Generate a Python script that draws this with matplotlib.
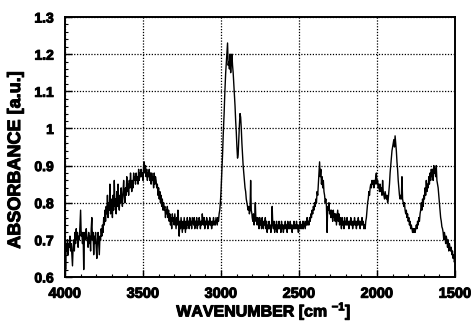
import matplotlib
matplotlib.use("Agg")
import matplotlib.pyplot as plt
import matplotlib.patheffects as pe
from matplotlib.ticker import MultipleLocator

plt.rcParams['font.family'] = ['Liberation Sans', 'DejaVu Sans']
plt.rcParams['mathtext.fontset'] = 'custom'
plt.rcParams['mathtext.rm'] = 'Liberation Sans'
plt.rcParams['mathtext.bf'] = 'Liberation Sans:bold'

wavenumber = [
    4000, 3996, 3992, 3988, 3984, 3980, 3976, 3972, 3968, 3964, 3960, 3956, 3952, 3948, 3944, 3940,
    3936, 3932, 3928, 3924, 3920, 3916, 3912, 3908, 3904, 3900, 3896, 3892, 3888, 3884, 3880, 3876,
    3872, 3868, 3864, 3860, 3856, 3852, 3848, 3844, 3840, 3836, 3832, 3828, 3824, 3820, 3816, 3812,
    3808, 3804, 3800, 3796, 3792, 3788, 3784, 3780, 3776, 3772, 3768, 3764, 3760, 3756, 3752, 3748,
    3744, 3740, 3736, 3732, 3728, 3724, 3720, 3716, 3712, 3708, 3704, 3700, 3696, 3692, 3688, 3684,
    3680, 3676, 3672, 3668, 3664, 3660, 3656, 3652, 3648, 3644, 3640, 3636, 3632, 3628, 3624, 3620,
    3616, 3612, 3608, 3604, 3600, 3596, 3592, 3588, 3584, 3580, 3576, 3572, 3568, 3564, 3560, 3556,
    3552, 3548, 3544, 3540, 3536, 3532, 3528, 3524, 3520, 3516, 3512, 3508, 3504, 3500, 3496, 3492,
    3488, 3484, 3480, 3476, 3472, 3468, 3464, 3460, 3456, 3452, 3448, 3444, 3440, 3436, 3432, 3428,
    3424, 3420, 3416, 3412, 3408, 3404, 3400, 3396, 3392, 3388, 3384, 3380, 3376, 3372, 3368, 3364,
    3360, 3356, 3352, 3348, 3344, 3340, 3336, 3332, 3328, 3324, 3320, 3316, 3312, 3308, 3304, 3300,
    3296, 3292, 3288, 3284, 3280, 3276, 3272, 3268, 3264, 3260, 3256, 3252, 3248, 3244, 3240, 3236,
    3232, 3228, 3224, 3220, 3216, 3212, 3208, 3204, 3200, 3196, 3192, 3188, 3184, 3180, 3176, 3172,
    3168, 3164, 3160, 3156, 3152, 3148, 3144, 3140, 3136, 3132, 3128, 3124, 3120, 3116, 3112, 3108,
    3104, 3100, 3096, 3092, 3088, 3084, 3080, 3076, 3072, 3068, 3064, 3060, 3056, 3052, 3048, 3044,
    3040, 3036, 3032, 3028, 3024, 3020, 3016, 3012, 3008, 3004, 3000, 2996, 2990, 2986, 2980, 2976,
    2970, 2964, 2958, 2954, 2950, 2946, 2942, 2938, 2934, 2930, 2926, 2922, 2918, 2914, 2910, 2906,
    2902, 2898, 2894, 2890, 2886, 2882, 2878, 2874, 2870, 2866, 2862, 2858, 2854, 2850, 2846, 2842,
    2838, 2834, 2830, 2826, 2822, 2818, 2814, 2810, 2806, 2802,
    2800, 2796, 2792, 2788, 2784, 2780, 2776, 2772, 2768, 2764, 2760, 2756, 2752, 2748, 2744, 2740,
    2736, 2732, 2728, 2724, 2720, 2716, 2712, 2708, 2704, 2700, 2696, 2692, 2688, 2684, 2680, 2676,
    2672, 2668, 2664, 2660, 2656, 2652, 2648, 2644, 2640, 2636, 2632, 2628, 2624, 2620, 2616, 2612,
    2608, 2604, 2600, 2596, 2592, 2588, 2584, 2580, 2576, 2572, 2568, 2564, 2560, 2556, 2552, 2548,
    2544, 2540, 2536, 2532, 2528, 2524, 2520, 2516, 2512, 2508, 2504, 2500, 2496, 2492, 2488, 2484,
    2480, 2476, 2472, 2468, 2464, 2460, 2456, 2452, 2448, 2444, 2440, 2436, 2432, 2428, 2424, 2420,
    2416, 2412, 2408, 2404, 2400, 2396, 2392, 2388, 2384, 2380, 2376, 2372, 2368, 2364, 2360, 2356,
    2352, 2348, 2344, 2340, 2336, 2332, 2328, 2324, 2320, 2316, 2312, 2308, 2304, 2300, 2296, 2292,
    2288, 2284, 2280, 2276, 2272, 2268, 2264, 2260, 2256, 2252, 2248, 2244, 2240, 2236, 2232, 2228,
    2224, 2220, 2216, 2212, 2208, 2204, 2200, 2196, 2192, 2188, 2184, 2180, 2176, 2172, 2168, 2164,
    2160, 2156, 2152, 2148, 2144, 2140, 2136, 2132, 2128, 2124, 2120, 2116, 2112, 2108, 2104, 2100,
    2096, 2092, 2088, 2084, 2080, 2076, 2072, 2068, 2064, 2060, 2056, 2052, 2048, 2044, 2040, 2036,
    2032, 2028, 2024, 2020, 2016, 2012, 2008, 2004, 2000, 1996, 1992, 1988, 1984, 1980, 1976, 1972,
    1968, 1964, 1960, 1956, 1952, 1948, 1944, 1940, 1936, 1932, 1928, 1924, 1920, 1916, 1912, 1908,
    1904, 1900, 1896, 1892, 1888, 1884, 1880, 1876, 1872, 1868, 1864, 1860, 1856, 1852, 1848, 1844,
    1840, 1836, 1832, 1828, 1824, 1820, 1816, 1812, 1808, 1804, 1800, 1796, 1792, 1788, 1784, 1780,
    1776, 1772, 1768, 1764, 1760, 1756, 1752, 1748, 1744, 1740, 1736, 1732, 1728, 1724, 1720, 1716,
    1712, 1708, 1704, 1700, 1696, 1692, 1688, 1684, 1680, 1676, 1672, 1668, 1664, 1660, 1656, 1652,
    1648, 1644, 1640, 1636, 1632, 1628, 1624, 1620, 1616, 1612, 1608, 1604, 1600, 1596, 1592, 1588,
    1584, 1580, 1576, 1572, 1568, 1564, 1560, 1556, 1552, 1548, 1544, 1540, 1536, 1532, 1528, 1524,
    1520, 1516, 1512, 1508, 1504, 1500,
]

absorbance = [
    0.70, 0.62, 0.69, 0.67, 0.70, 0.66, 0.69, 0.68, 0.71, 0.67, 0.69, 0.66, 0.63, 0.68, 0.70, 0.67,
    0.72, 0.69, 0.73, 0.70, 0.72, 0.68, 0.71, 0.70, 0.74, 0.78, 0.71, 0.72, 0.69, 0.72, 0.62, 0.70,
    0.72, 0.70, 0.73, 0.71, 0.70, 0.68, 0.72, 0.69, 0.71, 0.67, 0.73, 0.76, 0.70, 0.72, 0.66, 0.71,
    0.69, 0.72, 0.68, 0.65, 0.70, 0.72, 0.69, 0.66, 0.71, 0.70, 0.73, 0.71, 0.74, 0.72, 0.76, 0.74,
    0.78, 0.75, 0.79, 0.77, 0.82, 0.76, 0.80, 0.78, 0.85, 0.77, 0.81, 0.79, 0.76, 0.82, 0.78, 0.86,
    0.79, 0.81, 0.77, 0.83, 0.79, 0.85, 0.80, 0.78, 0.82, 0.80, 0.84, 0.81, 0.79, 0.83, 0.86, 0.82,
    0.80, 0.84, 0.82, 0.87, 0.83, 0.85, 0.82, 0.86, 0.84, 0.88, 0.85, 0.83, 0.86, 0.84, 0.88, 0.86,
    0.87, 0.85, 0.88, 0.86, 0.87, 0.85, 0.89, 0.86, 0.88, 0.87, 0.89, 0.87, 0.88, 0.86, 0.90, 0.91,
    0.88, 0.90, 0.87, 0.89, 0.86, 0.88, 0.87, 0.89, 0.86, 0.88, 0.85, 0.88, 0.86, 0.87, 0.84, 0.88,
    0.85, 0.87, 0.86, 0.84, 0.85, 0.82, 0.84, 0.81, 0.83, 0.80, 0.82, 0.79, 0.81, 0.78, 0.80, 0.78,
    0.79, 0.76, 0.78, 0.77, 0.79, 0.76, 0.78, 0.75, 0.77, 0.74, 0.76, 0.73, 0.77, 0.75, 0.76, 0.74,
    0.77, 0.75, 0.73, 0.76, 0.74, 0.78, 0.75, 0.71, 0.75, 0.73, 0.76, 0.74, 0.72, 0.75, 0.73, 0.76,
    0.74, 0.72, 0.75, 0.73, 0.76, 0.74, 0.75, 0.73, 0.76, 0.74, 0.75, 0.73, 0.76, 0.75, 0.74, 0.76,
    0.73, 0.75, 0.74, 0.76, 0.73, 0.75, 0.74, 0.76, 0.75, 0.73, 0.75, 0.74, 0.77, 0.75, 0.74, 0.76,
    0.73, 0.75, 0.74, 0.76, 0.75, 0.73, 0.75, 0.74, 0.76, 0.74, 0.75, 0.73, 0.75, 0.74, 0.76, 0.74,
    0.75, 0.74, 0.76, 0.75, 0.74, 0.76, 0.75, 0.77, 0.78, 0.80, 0.83, 0.87, 0.93, 0.98, 1.04, 1.09,
    1.15, 1.19, 1.23, 1.17, 1.18, 1.16, 1.20, 1.15, 1.18, 1.20, 1.17, 1.15, 1.12, 1.09, 1.06, 1.02,
    0.99, 0.95, 0.92, 0.93, 0.97, 1.01, 1.04, 1.03, 1.00, 0.96, 0.93, 0.90, 0.88, 0.86, 0.84, 0.83,
    0.81, 0.80, 0.79, 0.78, 0.79, 0.77, 0.78, 0.86, 0.78, 0.77,
    0.76, 0.75, 0.77, 0.74, 0.76, 0.80, 0.75, 0.76, 0.74, 0.76, 0.75, 0.73, 0.76, 0.74, 0.75, 0.73,
    0.76, 0.74, 0.73, 0.75, 0.74, 0.76, 0.73, 0.75, 0.72, 0.74, 0.73, 0.75, 0.73, 0.74, 0.72, 0.74,
    0.79, 0.74, 0.73, 0.75, 0.72, 0.74, 0.73, 0.75, 0.72, 0.74, 0.73, 0.75, 0.73, 0.74, 0.72, 0.75,
    0.73, 0.74, 0.72, 0.74, 0.73, 0.75, 0.73, 0.74, 0.72, 0.75, 0.73, 0.74, 0.73, 0.75, 0.73, 0.74,
    0.72, 0.74, 0.73, 0.75, 0.73, 0.74, 0.73, 0.75, 0.73, 0.74, 0.72, 0.74, 0.73, 0.75, 0.73, 0.74,
    0.73, 0.75, 0.73, 0.75, 0.74, 0.73, 0.75, 0.74, 0.76, 0.74, 0.75, 0.74, 0.76, 0.75, 0.77, 0.76,
    0.78, 0.77, 0.79, 0.78, 0.80, 0.79, 0.81, 0.80, 0.83, 0.82, 0.85, 0.88, 0.91, 0.87, 0.89, 0.85,
    0.87, 0.84, 0.86, 0.83, 0.82, 0.80, 0.81, 0.79, 0.72, 0.79, 0.78, 0.80, 0.77, 0.78, 0.76, 0.78,
    0.77, 0.75, 0.78, 0.76, 0.77, 0.75, 0.77, 0.74, 0.76, 0.78, 0.75, 0.77, 0.74, 0.76, 0.75, 0.73,
    0.76, 0.74, 0.75, 0.73, 0.76, 0.74, 0.75, 0.74, 0.76, 0.74, 0.75, 0.73, 0.75, 0.74, 0.76, 0.74,
    0.75, 0.73, 0.75, 0.74, 0.76, 0.74, 0.75, 0.73, 0.75, 0.74, 0.76, 0.74, 0.75, 0.73, 0.75, 0.74,
    0.76, 0.74, 0.75, 0.73, 0.74, 0.73, 0.75, 0.76, 0.78, 0.80, 0.81, 0.83, 0.82, 0.84, 0.85, 0.84,
    0.86, 0.85, 0.86, 0.84, 0.86, 0.85, 0.87, 0.88, 0.85, 0.86, 0.84, 0.85, 0.83, 0.85, 0.83, 0.84,
    0.82, 0.86, 0.83, 0.82, 0.81, 0.83, 0.82, 0.81, 0.82, 0.80, 0.81, 0.83, 0.85, 0.88, 0.90, 0.92,
    0.94, 0.95, 0.96, 0.97, 0.95, 0.98, 0.96, 0.94, 0.91, 0.89, 0.86, 0.84, 0.82, 0.81, 0.82, 0.81,
    0.87, 0.81, 0.80, 0.79, 0.80, 0.78, 0.77, 0.78, 0.76, 0.77, 0.75, 0.76, 0.74, 0.75, 0.73, 0.74,
    0.73, 0.72, 0.73, 0.72, 0.73, 0.72, 0.73, 0.74, 0.73, 0.75, 0.74, 0.76, 0.75, 0.77, 0.78, 0.80,
    0.78, 0.81, 0.79, 0.82, 0.81, 0.84, 0.82, 0.86, 0.83, 0.85, 0.84, 0.87, 0.85, 0.88, 0.86, 0.89,
    0.87, 0.89, 0.86, 0.90, 0.88, 0.89, 0.87, 0.90, 0.86, 0.85, 0.84, 0.82, 0.80, 0.78, 0.76, 0.75,
    0.735, 0.73, 0.72, 0.70, 0.72, 0.71, 0.69, 0.71, 0.70, 0.68, 0.70, 0.67, 0.69, 0.68, 0.67, 0.68,
    0.66, 0.67, 0.65, 0.66, 0.64, 0.65,
]

x_ticks = [4000, 3500, 3000, 2500, 2000, 1500]
y_ticks = [0.6, 0.7, 0.8, 0.9, 1.0, 1.1, 1.2, 1.3]
y_tick_labels = ["0.6", "0.7", "0.8", "0.9", "1", "1.1", "1.2", "1.3"]

heavy = [pe.withStroke(linewidth=0.7, foreground="black")]

fig = plt.figure(figsize=(4.74, 3.21), dpi=100)
ax = fig.add_axes([65 / 474, 1 - 277 / 321, 390 / 474, 260 / 321])

ax.plot(wavenumber, absorbance, color="black", linewidth=1.0)

ax.set_xlim(4000, 1500)
ax.set_ylim(0.6, 1.3)
ax.set_xticks(x_ticks)
ax.set_xticklabels([str(t) for t in x_ticks], fontweight="bold", fontsize=10.5)
ax.set_yticks(y_ticks)
ax.set_yticklabels(y_tick_labels, fontweight="bold", fontsize=10)
for lab in ax.get_xticklabels() + ax.get_yticklabels():
    lab.set_path_effects(heavy)
ax.xaxis.set_minor_locator(MultipleLocator(100))
ax.yaxis.set_minor_locator(MultipleLocator(0.02))
ax.tick_params(which="major", direction="in", length=5, width=1, colors="black")
ax.tick_params(which="minor", direction="in", length=2.5, width=0.8)
ax.tick_params(axis="x", which="major", pad=7)
ax.tick_params(axis="y", which="major", pad=8)

ax.grid(True, which="major", linestyle=(0, (1, 1.3)), color="black", linewidth=0.9)
for s in ax.spines.values():
    s.set_linewidth(1.4)

xl = fig.text(264 / 474, 1 - 316.5 / 321, "WAVENUMBER [cm $^{\\mathbf{-1}}$]",
              fontweight="bold", fontsize=11.5, ha="center", va="baseline")
yl = ax.set_ylabel("ABSORBANCE [a.u.]", fontweight="bold", fontsize=13)
ax.yaxis.set_label_coords(-0.105, 0.45)
xl.set_path_effects(heavy)
yl.set_path_effects(heavy)

fig.savefig("out.png", dpi=100)
